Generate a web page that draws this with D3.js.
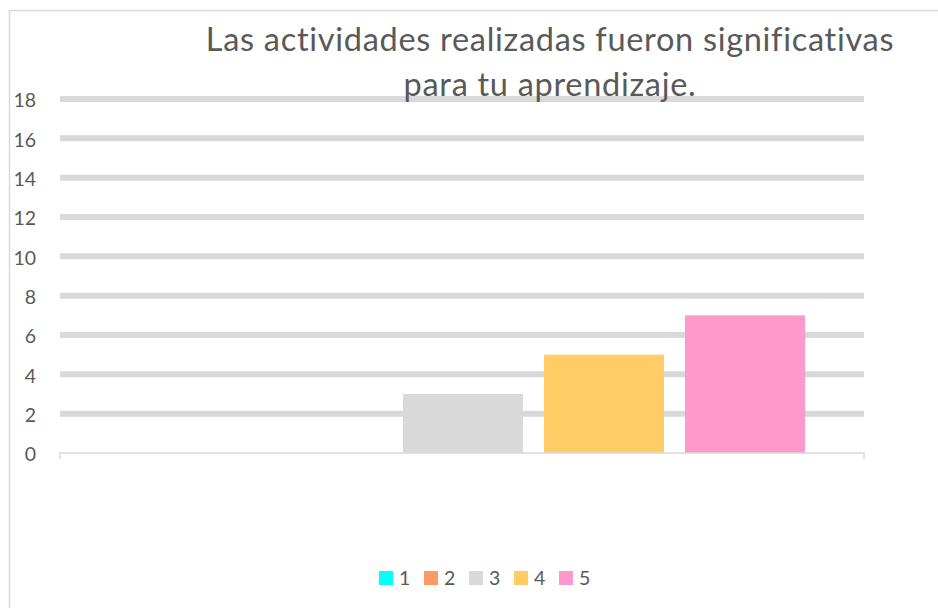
<!DOCTYPE html>
<html><head><meta charset="utf-8">
<script src="https://cdn.jsdelivr.net/npm/d3@7"></script>
<style>
html,body{margin:0;padding:0;background:#fff;}
svg{display:block;font-family:Lato,"Open Sans",sans-serif;}
</style></head>
<body>
<svg id="chart" width="938" height="608"></svg>
<script>
const titleLines = ["Las actividades realizadas fueron significativas", "para tu aprendizaje."];
const series = ["1", "2", "3", "4", "5"];
const values = [0, 0, 3, 5, 7];
const colors = ["#00FFFF", "#FF9966", "#D9D9D9", "#FFCC66", "#FF99CC"];
const yTicks = [0, 2, 4, 6, 8, 10, 12, 14, 16, 18];

const svg = d3.select("#chart");
const plot = {left: 60, right: 864, top: 99, bottom: 453};

// chart frame
svg.append("rect").attr("x", 9.5).attr("y", 10.5).attr("width", 1000).attr("height", 1000)
  .attr("fill", "#fff").attr("stroke", "#D9D9D9").attr("stroke-width", 1.5);

const y = d3.scaleLinear().domain([0, 18]).range([plot.bottom, plot.top]);
const x = d3.scaleBand().domain(series).range([121, 805]).paddingInner(0.149).paddingOuter(0);

// gridlines
svg.append("g").selectAll("line").data(yTicks.filter(d => d > 0)).join("line")
  .attr("x1", plot.left).attr("x2", plot.right)
  .attr("y1", d => y(d)).attr("y2", d => y(d))
  .attr("stroke", "#D9D9D9").attr("stroke-width", 6);

// y axis labels
const yAxis = d3.axisLeft(y).tickValues(yTicks).tickSize(0).tickPadding(24);
const ga = svg.append("g").attr("transform", `translate(${plot.left},1.5)`).call(yAxis);
ga.select(".domain").remove();
ga.selectAll("text").attr("font-size", 19.5).attr("fill", "#595959")
  .attr("font-family", "Lato, 'Open Sans', sans-serif");

// bars
svg.append("g").selectAll("rect").data(series).join("rect")
  .attr("x", d => x(d)).attr("width", x.bandwidth())
  .attr("y", (d, i) => y(values[i])).attr("height", (d, i) => y(0) - y(values[i]))
  .attr("fill", (d, i) => colors[i]);

// baseline with end ticks
svg.append("path")
  .attr("d", `M${plot.left},${plot.bottom + 6}V${plot.bottom}H${plot.right}V${plot.bottom + 6}`)
  .attr("fill", "none").attr("stroke", "#D9D9D9").attr("stroke-width", 1.5);

// title
const t = svg.append("text").attr("text-anchor", "middle").attr("fill", "#595959")
  .attr("font-size", 32.5).attr("letter-spacing", 0.7);
titleLines.forEach((s, i) => {
  t.append("tspan").attr("x", 550).attr("y", 51 + i * 45).text(s);
});

// legend
const lg = svg.append("g");
const item = lg.selectAll("g").data(series).join("g")
  .attr("transform", (d, i) => `translate(${379 + i * 45},571)`);
item.append("rect").attr("width", 14).attr("height", 14).attr("fill", (d, i) => colors[i]);
item.append("text").attr("x", 20).attr("y", 14).attr("font-size", 19.5).attr("fill", "#595959")
  .text(d => d);
</script>
</body></html>
